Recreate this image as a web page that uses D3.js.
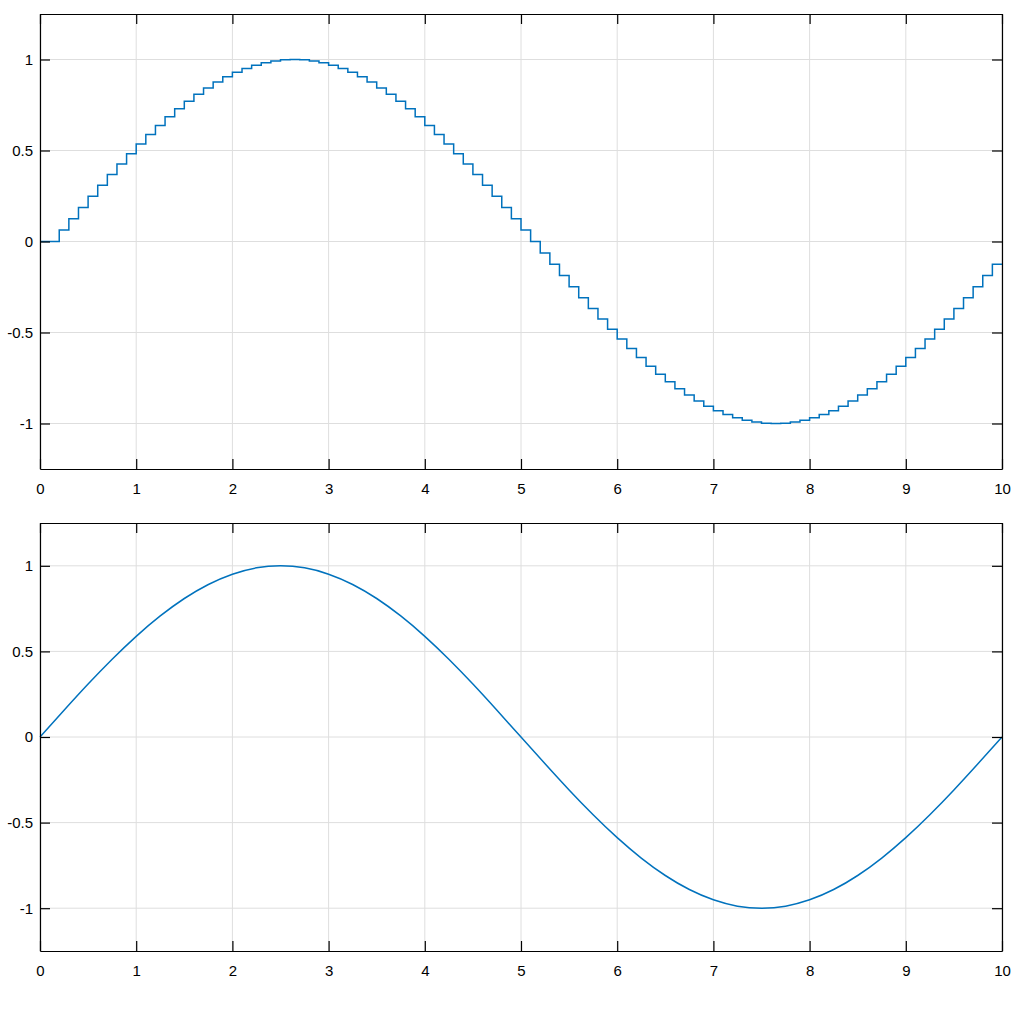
<!DOCTYPE html>
<meta charset="utf-8">
<script src="https://d3js.org/d3.v7.min.js"></script>
<style>
  body { margin: 0; background: #fff; }
  text { font-family: "Liberation Sans", Arial, sans-serif; font-size: 14px; fill: #000; }
</style>
<body>
  <div id="chart"></div>
</body>
<script>
  // sample times for the held signal (every 0.1 s), value held until next sample
  var stepTimes = d3.range(0, 100).map(function (i) { return +(i / 10).toFixed(1); });
  var stepValues = [0, 0, 0.063, 0.125, 0.187, 0.249, 0.309, 0.368, 0.426, 0.482,
    0.536, 0.588, 0.637, 0.685, 0.729, 0.771, 0.809, 0.844, 0.876, 0.905,
    0.930, 0.951, 0.969, 0.982, 0.992, 0.998, 1.0, 0.998, 0.992, 0.982,
    0.969, 0.951, 0.930, 0.905, 0.876, 0.844, 0.809, 0.771, 0.729, 0.685,
    0.637, 0.588, 0.536, 0.482, 0.426, 0.368, 0.309, 0.249, 0.187, 0.125,
    0.063, 0, -0.063, -0.125, -0.187, -0.249, -0.309, -0.368, -0.426, -0.482,
    -0.536, -0.588, -0.637, -0.685, -0.729, -0.771, -0.809, -0.844, -0.876, -0.905,
    -0.930, -0.951, -0.969, -0.982, -0.992, -0.998, -1.0, -0.998, -0.992, -0.982,
    -0.969, -0.951, -0.930, -0.905, -0.876, -0.844, -0.809, -0.771, -0.729, -0.685,
    -0.637, -0.588, -0.536, -0.482, -0.426, -0.368, -0.309, -0.249, -0.187, -0.125];

  // smooth signal read every 0.25 s
  var smoothTimes = d3.range(0, 41).map(function (i) { return i * 0.25; });
  var smoothValues = [0, 0.156, 0.309, 0.454, 0.588, 0.707, 0.809, 0.891, 0.951, 0.988,
    1.0, 0.988, 0.951, 0.891, 0.809, 0.707, 0.588, 0.454, 0.309, 0.156,
    0, -0.156, -0.309, -0.454, -0.588, -0.707, -0.809, -0.891, -0.951, -0.988,
    -1.0, -0.988, -0.951, -0.891, -0.809, -0.707, -0.588, -0.454, -0.309, -0.156, 0];

  var xTicks = [0, 1, 2, 3, 4, 5, 6, 7, 8, 9, 10];
  var yTicks = [-1, -0.5, 0, 0.5, 1];
  var xDomain = [0, 10];
  var yDomain = [-1.25, 1.25];

  var W = 1025, H = 1017;
  var svg = d3.select("#chart").append("svg")
    .attr("width", W).attr("height", H)
    .style("display", "block");

  var blue = "#0072bd";

  function panel(top, bottom, data, curve) {
    var x = d3.scaleLinear().domain(xDomain).range([40, 1002]);
    var y = d3.scaleLinear().domain(yDomain).range([bottom, top]);
    var g = svg.append("g");

    // grid
    g.append("g").selectAll("line").data(xTicks).enter().append("line")
      .attr("x1", function (d) { return x(d); }).attr("x2", function (d) { return x(d); })
      .attr("y1", top).attr("y2", bottom)
      .attr("stroke", "#dedede").attr("stroke-width", 1);
    g.append("g").selectAll("line").data(yTicks).enter().append("line")
      .attr("y1", function (d) { return y(d); }).attr("y2", function (d) { return y(d); })
      .attr("x1", 40).attr("x2", 1002)
      .attr("stroke", "#dedede").attr("stroke-width", 1);

    // data line
    var line = d3.line()
      .x(function (d) { return x(d[0]); })
      .y(function (d) { return y(d[1]); })
      .curve(curve);
    g.append("path").datum(data)
      .attr("d", line)
      .attr("fill", "none")
      .attr("stroke", blue)
      .attr("stroke-width", 1.5);

    // axes with inward ticks on all four sides
    var fmt = function (d) { return String(d); };
    g.append("g").attr("transform", "translate(0," + bottom + ")")
      .call(d3.axisBottom(x).tickValues(xTicks).tickFormat(fmt).tickSizeInner(-10).tickSizeOuter(0).tickPadding(14));
    g.append("g").attr("transform", "translate(0," + top + ")")
      .call(d3.axisTop(x).tickValues(xTicks).tickFormat("").tickSizeInner(-10).tickSizeOuter(0));
    g.append("g").attr("transform", "translate(40,0)")
      .call(d3.axisLeft(y).tickValues(yTicks).tickFormat(fmt).tickSizeInner(-10).tickSizeOuter(0).tickPadding(7));
    g.append("g").attr("transform", "translate(1002,0)")
      .call(d3.axisRight(y).tickValues(yTicks).tickFormat("").tickSizeInner(-10).tickSizeOuter(0));

    g.selectAll(".domain").attr("stroke", "#000").attr("stroke-width", 1.2);
    g.selectAll(".tick line").attr("stroke", "#000").attr("stroke-width", 1.2);
    g.selectAll(".tick text").style("font-size", "15px")
      .style("font-family", "'Liberation Sans', Arial, sans-serif").attr("fill", "#000");
  }

  var stepData = stepTimes.map(function (t, i) { return [t, stepValues[i]]; });
  stepData.push([10, stepValues[stepValues.length - 1]]);
  var smoothData = smoothTimes.map(function (t, i) { return [t, smoothValues[i]]; });

  panel(14, 469, stepData, d3.curveStepAfter);
  panel(523, 951, smoothData, d3.curveNatural);
</script>
